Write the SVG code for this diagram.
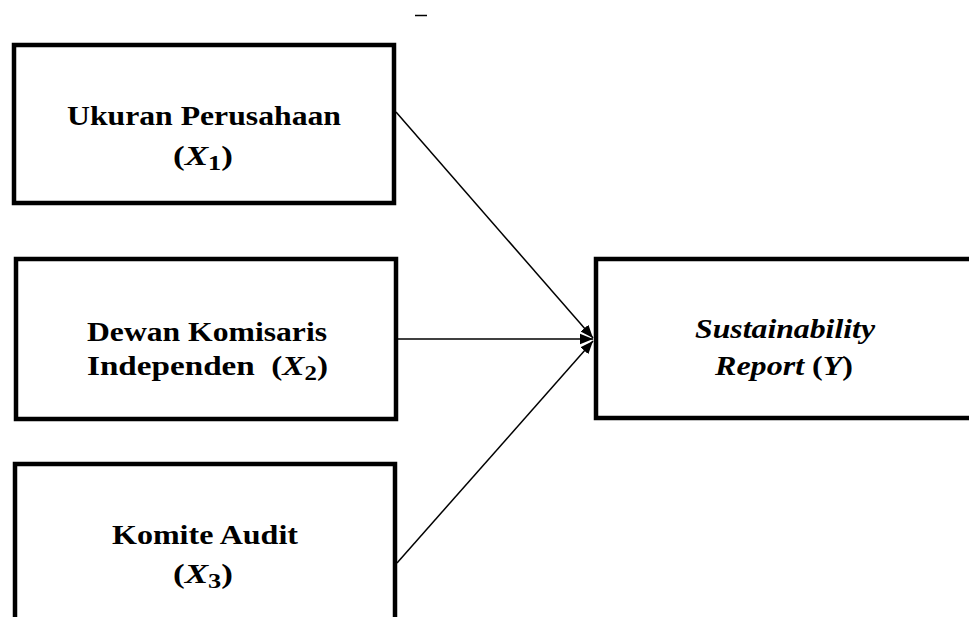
<svg xmlns="http://www.w3.org/2000/svg" width="969" height="617" viewBox="0 0 969 617">
<style>
.box{fill:#fff;stroke:#000;stroke-width:4.5}
.t{font-family:"Liberation Serif","Times New Roman",serif;font-size:28px;font-weight:bold;fill:#000}
.m{font-style:italic}
.s{font-size:21px;font-style:normal}
.c{stroke:#000;stroke-width:1.5;fill:none}
</style>
<defs>
<marker id="ah" viewBox="0 0 10 10" refX="10" refY="5" markerWidth="13" markerHeight="13" orient="auto" markerUnits="userSpaceOnUse">
<path d="M0,1 L10,5 L0,9 z" fill="#000"/>
</marker>
</defs>
<rect x="0" y="0" width="969" height="617" fill="#fff"/>
<line x1="415" y1="15.5" x2="427" y2="15.5" stroke="#000" stroke-width="1.5"/>
<g id="connectors">
<line class="c" x1="396" y1="112" x2="593" y2="338" marker-end="url(#ah)"/>
<line class="c" x1="398" y1="339" x2="593" y2="339" marker-end="url(#ah)"/>
<line class="c" x1="397" y1="563" x2="593" y2="341" marker-end="url(#ah)"/>
</g>
<g id="x1">
<rect class="box" x="14" y="45" width="380" height="158"/>
<text class="t" x="67" y="125" textLength="274" lengthAdjust="spacingAndGlyphs">Ukuran Perusahaan</text>
<text class="t" x="173" y="165" textLength="60" lengthAdjust="spacingAndGlyphs">(<tspan class="m">X</tspan><tspan class="s" dy="5">1</tspan><tspan dy="-5">)</tspan></text>
</g>
<g id="x2">
<rect class="box" x="16" y="259" width="380" height="160"/>
<text class="t" x="87" y="341" textLength="240" lengthAdjust="spacingAndGlyphs">Dewan Komisaris</text>
<text class="t" x="87" y="375" textLength="241" lengthAdjust="spacingAndGlyphs">Independen&#160;&#160;(<tspan class="m">X</tspan><tspan class="s" dy="5">2</tspan><tspan dy="-5">)</tspan></text>
</g>
<g id="x3">
<rect class="box" x="15" y="464" width="380" height="170"/>
<text class="t" x="112" y="544" textLength="186" lengthAdjust="spacingAndGlyphs">Komite Audit</text>
<text class="t" x="173" y="583" textLength="60" lengthAdjust="spacingAndGlyphs">(<tspan class="m">X</tspan><tspan class="s" dy="5">3</tspan><tspan dy="-5">)</tspan></text>
</g>
<g id="y">
<rect class="box" x="596" y="259" width="400" height="159"/>
<text class="t m" x="695" y="338" textLength="180" lengthAdjust="spacingAndGlyphs">Sustainability</text>
<text class="t" x="715" y="375" textLength="138" lengthAdjust="spacingAndGlyphs"><tspan class="m">Report</tspan> (<tspan class="m">Y</tspan>)</text>
</g>
</svg>
